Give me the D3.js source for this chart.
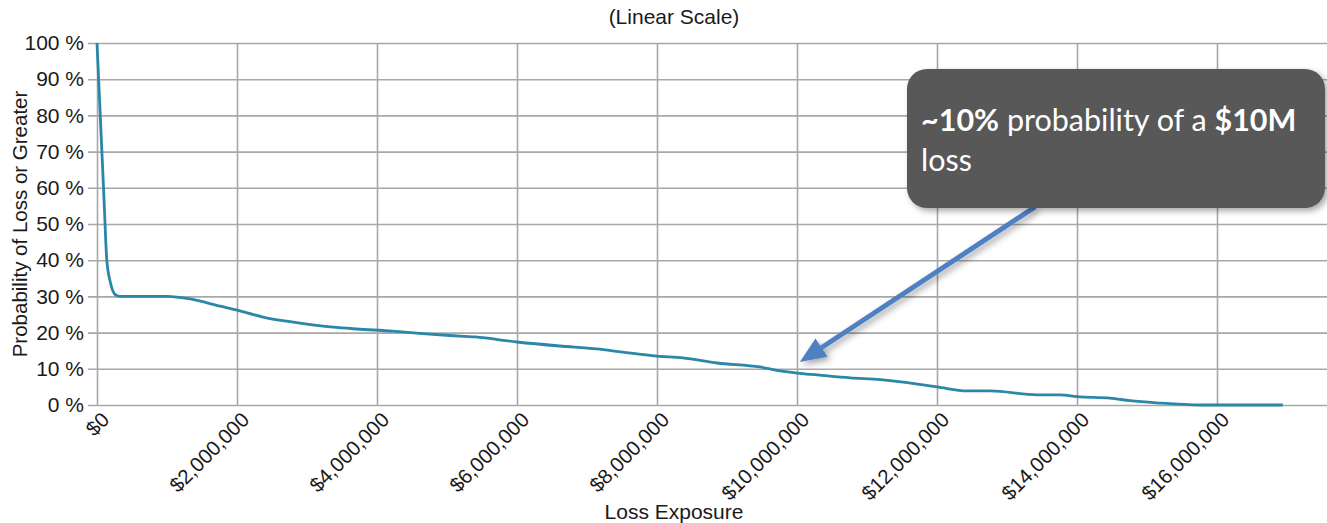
<!DOCTYPE html>
<html>
<head>
<meta charset="utf-8">
<script src="https://cdn.jsdelivr.net/npm/d3@7"></script>
<style>
  html, body { margin: 0; padding: 0; background: #fff; }
  svg { display: block; }
  text { font-family: "Liberation Sans", Arial, Helvetica, sans-serif; fill: #1a1a1a; }
</style>
</head>
<body>
<svg id="chart" width="1327" height="523"></svg>
<script>
// Loss exceedance curve: probability that a loss of at least X occurs
const lossExposure = [
  0, 100000, 140000, 190000, 260000, 320000, 600000, 1000000, 1330000, 1760000,
  2000000, 2370000, 2760000, 3370000, 3710000, 4230000, 4600000, 5040000, 5400000,
  6000000, 6610000, 7140000, 7510000, 8000000, 8370000, 8860000, 9470000, 9760000,
  10000000, 10290000, 10760000, 11190000, 12000000, 12430000, 12760000, 13430000,
  13760000, 14000000, 14470000, 14760000, 15140000, 15760000, 16940000
];
const probability = [
  100, 57, 40, 34, 30.5, 30, 30, 30, 29.3, 27.3,
  26.2, 24.3, 23, 21.5, 21, 20.4, 19.8, 19.2, 18.8,
  17.4, 16.3, 15.5, 14.6, 13.5, 13, 11.6, 10.5, 9.4,
  8.8, 8.3, 7.5, 7.0, 5.0, 3.9, 3.9, 2.8,
  2.8, 2.3, 1.9, 1.2, 0.6, 0, 0
];
const xTicks = [0, 2000000, 4000000, 6000000, 8000000, 10000000, 12000000, 14000000, 16000000];
const yTicks = [0, 10, 20, 30, 40, 50, 60, 70, 80, 90, 100];

// Callout pointing at the $10M loss
const calloutTip = { x: 10040000, y: 11.9 };
const calloutTail = { x: 13400000, y: 54.7 };

const svg = d3.select("#chart");
const mLeft = 97, mRight = 1329, mTop = 43, mBottom = 405;

const x = d3.scaleLinear().domain([0, 17600000]).range([mLeft, mRight]);
const y = d3.scaleLinear().domain([0, 100]).range([mBottom, mTop]);

const gridColor = "#a8a8a8";

// horizontal grid + y ticks
const yAxis = d3.axisLeft(y).tickValues(yTicks)
  .tickSize(-(mRight - mLeft) - 9)
  .tickSizeOuter(0)
  .tickPadding(4)
  .tickFormat(d => d + " %");
svg.append("g")
  .attr("transform", `translate(${mLeft - 9},0)`)
  .call(yAxis)
  .call(g => g.select(".domain").remove())
  .call(g => g.selectAll(".tick line").attr("stroke", gridColor).attr("stroke-width", 1.6))
  .call(g => g.selectAll(".tick text").attr("font-size", 21).attr("fill", "#1a1a1a")
    .style("font-family", '"Liberation Sans", Arial, sans-serif'));

// vertical grid
const xAxis = d3.axisBottom(x).tickValues(xTicks)
  .tickSize(-(mBottom - mTop))
  .tickSizeOuter(0)
  .tickFormat(d => "$" + d3.format(",")(d));
const gx = svg.append("g")
  .attr("transform", `translate(0,${mBottom})`)
  .call(xAxis)
  .call(g => g.select(".domain").remove())
  .call(g => g.selectAll(".tick line").attr("stroke", gridColor).attr("stroke-width", 1.6));

gx.selectAll(".tick text")
  .attr("font-size", 20.5)
  .attr("fill", "#1a1a1a")
  .style("font-family", '"Liberation Sans", Arial, sans-serif')
  .attr("text-anchor", "end")
  .attr("y", 0).attr("dy", 0)
  .attr("transform", "translate(13,16) rotate(-45)");

// exceedance curve
const pts = lossExposure.map((v, i) => [v, probability[i]]);
const line = d3.line()
  .x(d => x(d[0]))
  .y(d => y(d[1]))
  .curve(d3.curveMonotoneX);
svg.append("path")
  .datum(pts)
  .attr("d", line)
  .attr("fill", "none")
  .attr("stroke", "#2b87a8")
  .attr("stroke-width", 2.8)
  .attr("stroke-linejoin", "round");

// titles
svg.append("text")
  .attr("x", 674).attr("y", 24)
  .attr("text-anchor", "middle")
  .attr("font-size", 21)
  .text("(Linear Scale)");

svg.append("text")
  .attr("x", 674).attr("y", 519)
  .attr("text-anchor", "middle")
  .attr("font-size", 21)
  .text("Loss Exposure");

svg.append("text")
  .attr("transform", `translate(27,${(mTop + mBottom) / 2}) rotate(-90)`)
  .attr("text-anchor", "middle")
  .attr("font-size", 20.5)
  .text("Probability of Loss or Greater");

// shadow for the callout
const defs = svg.append("defs");
const f = defs.append("filter").attr("id", "shadow")
  .attr("x", "-20%").attr("y", "-20%").attr("width", "140%").attr("height", "140%");
f.append("feDropShadow")
  .attr("dx", 3).attr("dy", 3).attr("stdDeviation", 3)
  .attr("flood-color", "#000").attr("flood-opacity", 0.35);

// arrow
const tx = x(calloutTip.x), ty = y(calloutTip.y);
const sx = x(calloutTail.x), sy = y(calloutTail.y);
const ang = Math.atan2(ty - sy, tx - sx);
const headLen = 26, headHalf = 11;
const bx = tx - headLen * Math.cos(ang), by = ty - headLen * Math.sin(ang);
const nx = -Math.sin(ang), ny = Math.cos(ang);
const arrow = svg.append("g").attr("filter", "url(#shadow)");
arrow.append("line")
  .attr("x1", sx).attr("y1", sy).attr("x2", bx + 2 * Math.cos(ang)).attr("y2", by + 2 * Math.sin(ang))
  .attr("stroke", "#4f81c2").attr("stroke-width", 5);
arrow.append("path")
  .attr("d", `M${tx},${ty} L${bx + nx * headHalf},${by + ny * headHalf} L${bx - nx * headHalf},${by - ny * headHalf} Z`)
  .attr("fill", "#4f81c2");

// callout box
const box = svg.append("g");
box.append("rect")
  .attr("x", 907).attr("y", 69).attr("width", 418).attr("height", 139)
  .attr("rx", 20).attr("ry", 20)
  .attr("fill", "#595959")
  .attr("filter", "url(#shadow)");

const cText = box.append("text")
  .attr("x", 921).attr("y", 131)
  .attr("font-size", 30.5)
  .style("font-family", 'Lato, "Open Sans", sans-serif')
  .style("fill", "#fff");
cText.append("tspan").attr("font-weight", "bold").style("fill", "#fff").text("~10%");
cText.append("tspan").style("fill", "#fff").text(" probability of a ");
cText.append("tspan").attr("font-weight", "bold").style("fill", "#fff").text("$10M");

box.append("text")
  .attr("x", 921).attr("y", 171)
  .attr("font-size", 30.5)
  .style("font-family", 'Lato, "Open Sans", sans-serif')
  .style("fill", "#fff")
  .text("loss");
</script>
</body>
</html>
